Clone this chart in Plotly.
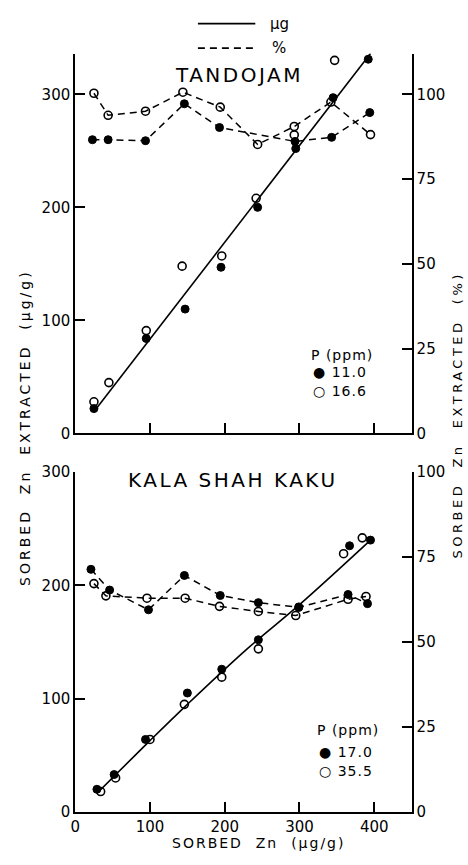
import plotly.graph_objects as go

W, H = 468, 865

# ---------------- data: TANDOJAM (top panel) ----------------
t_closed_ug_x = [25, 95, 147, 195, 244, 295, 345, 392]
t_closed_ug_y = [22, 84, 110, 147, 200, 252, 297, 331]
t_open_ug_x = [25, 45, 95, 143, 196, 242, 293, 347, 389]
t_open_ug_y = [28, 45, 91, 148, 157, 208, 264, 330, 341]
t_closed_pct_x = [23, 44, 94, 146, 193, 294, 343, 394]
t_closed_pct_y = [86.6, 86.6, 86.3, 97.2, 90.2, 86.1, 87.3, 94.6]
t_open_pct_x = [25, 44, 94, 144, 194, 244, 293, 342, 395]
t_open_pct_y = [100.3, 93.8, 95.0, 100.6, 96.2, 85.2, 90.5, 97.7, 88.1]
t_fit_x = [27, 395]
t_fit_y = [21, 336]

# ---------------- data: KALA SHAH KAKU (bottom panel) ----------------
k_closed_ug_x = [29, 52, 94, 150, 196, 245, 299, 367, 395]
k_closed_ug_y = [20, 33, 64, 105, 126, 152, 181, 235, 240]
k_open_ug_x = [34, 54, 100, 146, 196, 245, 359, 384]
k_open_ug_y = [18, 30, 64, 95, 119, 144, 228, 242]
k_closed_pct_x = [21, 46, 98, 146, 194, 245, 299, 365, 391]
k_closed_pct_y = [71.4, 65.3, 59.5, 69.6, 63.7, 61.6, 60.2, 64.0, 61.3]
k_open_pct_x = [25, 41, 96, 147, 193, 245, 295, 365, 389]
k_open_pct_y = [67.2, 63.6, 62.9, 62.9, 60.5, 59.0, 57.8, 62.6, 63.4]
k_fit_x = [30, 100, 150, 230, 300, 395]
k_fit_y = [17, 63, 95, 144, 183, 240]

x_ticks = [0, 100, 200, 300, 400]
ug_ticks = [0, 100, 200, 300]
pct_ticks = [0, 25, 50, 75, 100]

FONT = "DejaVu Sans"
BLK = "black"

def px(x):
    return x / W

def py(y):
    return 1 - y / H

fig = go.Figure()

closed = dict(symbol="circle", size=8, color=BLK, line=dict(color=BLK, width=1))
opened = dict(symbol="circle-open", size=8, color=BLK, line=dict(color=BLK, width=1.6))
dash = "7px,5px"

def add_panel(xa, ya, ya2, cux, cuy, oux, ouy, cpx, cpy, opx, opy, fx, fy):
    fig.add_trace(go.Scatter(x=fx, y=fy, mode="lines", line=dict(color=BLK, width=1.6, shape="spline"),
                             xaxis=xa, yaxis=ya, showlegend=False, hoverinfo="skip", cliponaxis=False))
    fig.add_trace(go.Scatter(x=cpx, y=cpy, mode="lines+markers", line=dict(color=BLK, width=1.5, dash=dash),
                             marker=closed, xaxis=xa, yaxis=ya2, showlegend=False, cliponaxis=False))
    fig.add_trace(go.Scatter(x=opx, y=opy, mode="lines+markers", line=dict(color=BLK, width=1.5, dash=dash),
                             marker=opened, xaxis=xa, yaxis=ya2, showlegend=False, cliponaxis=False))
    fig.add_trace(go.Scatter(x=cux, y=cuy, mode="markers", marker=closed,
                             xaxis=xa, yaxis=ya, showlegend=False, cliponaxis=False))
    fig.add_trace(go.Scatter(x=oux, y=ouy, mode="markers", marker=opened,
                             xaxis=xa, yaxis=ya, showlegend=False, cliponaxis=False))

# top panel uses x2/y3/y4, bottom uses x/y/y2
add_panel("x2", "y3", "y4", t_closed_ug_x, t_closed_ug_y, t_open_ug_x, t_open_ug_y,
          t_closed_pct_x, t_closed_pct_y, t_open_pct_x, t_open_pct_y, t_fit_x, t_fit_y)
add_panel("x", "y", "y2", k_closed_ug_x, k_closed_ug_y, k_open_ug_x, k_open_ug_y,
          k_closed_pct_x, k_closed_pct_y, k_open_pct_x, k_open_pct_y, k_fit_x, k_fit_y)

xdom = [px(71), px(411)]
top_dom = [py(433.5), py(45.5)]
bot_dom = [py(820), py(473)]

axis_common = dict(showgrid=False, zeroline=False, showline=True, linecolor=BLK, linewidth=2,
                   ticks="inside", ticklen=10, tickwidth=1.6, tickcolor=BLK,
                   tickfont=dict(family=FONT, size=15, color=BLK))

fig.update_layout(
    width=W, height=H,
    margin=dict(l=0, r=0, t=0, b=0),
    paper_bgcolor="white", plot_bgcolor="white",
    showlegend=False,
    xaxis=dict(axis_common, domain=xdom, range=[0, 450], tickvals=x_ticks, anchor="y"),
    yaxis=dict(axis_common, domain=bot_dom, range=[0, 300], tickvals=ug_ticks, anchor="x"),
    yaxis2=dict(axis_common, domain=bot_dom, range=[0, 100], tickvals=pct_ticks, side="right",
                overlaying="y", anchor="x"),
    xaxis2=dict(axis_common, domain=xdom, range=[0, 450], tickvals=x_ticks[1:], showticklabels=False,
                anchor="y3"),
    yaxis3=dict(axis_common, domain=top_dom, range=[0, 336], tickvals=ug_ticks, anchor="x2"),
    yaxis4=dict(axis_common, domain=top_dom, range=[0, 112], tickvals=pct_ticks, side="right",
                overlaying="y3", anchor="x2"),
)

ann = []
def text(x, y, s, size=14, xanchor="center", textangle=0, spacing=0):
    if spacing:
        s = '<span style="letter-spacing:%spx">%s</span>' % (spacing, s)
    ann.append(dict(x=px(x), y=py(y), xref="paper", yref="paper", text=s, showarrow=False,
                    xanchor=xanchor, yanchor="middle", textangle=textangle,
                    font=dict(family=FONT, size=size, color=BLK)))

text(237, 67, "TANDOJAM", size=20, spacing=2.5)
text(230, 481, "KALA SHAH KAKU", size=20, spacing=2.5)
text(307, 353, "P (ppm)", size=14, xanchor="left", spacing=1)
text(309, 371, "● 11.0", size=14, xanchor="left", spacing=1)
text(309, 390, "○ 16.6", size=14, xanchor="left", spacing=1)
text(313, 736, "P (ppm)", size=14, xanchor="left", spacing=1)
text(315, 759, "● 17.0", size=14, xanchor="left", spacing=1)
text(315, 778, "○ 35.5", size=14, xanchor="left", spacing=1)
text(256, 852, "SORBED  Zn  (µg/g)", size=14, spacing=2)
text(20, 427, "SORBED  Zn  EXTRACTED  (µg/g)", size=14, textangle=-90, spacing=3)
text(457, 415, "SORBED  Zn  EXTRACTED  (%)", size=13, textangle=-90, spacing=3.5)
text(266, 15, "µg", size=15, xanchor="left")
text(268, 40, "%", size=15, xanchor="left")
fig.update_layout(annotations=ann)

# legend key lines (solid = µg, dashed = %)
fig.add_shape(type="line", xref="paper", yref="paper", x0=px(195), x1=px(253), y0=py(15), y1=py(15),
              line=dict(color=BLK, width=1.8))
fig.add_shape(type="line", xref="paper", yref="paper", x0=px(195), x1=px(253), y0=py(40), y1=py(40),
              line=dict(color=BLK, width=1.8, dash=dash))

fig.write_html("out.html", config={"displayModeBar": False},
               post_script="document.body.style.margin='0px';document.body.style.overflow='hidden';")
